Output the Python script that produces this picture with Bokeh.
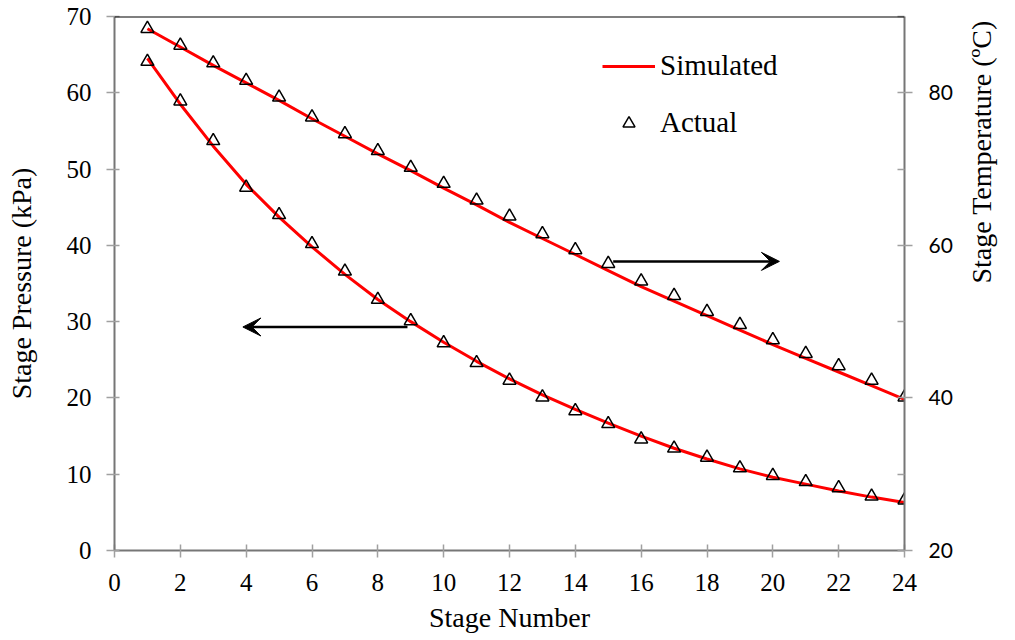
import math
from bokeh.plotting import figure
from bokeh.models import (Range1d, LinearAxis, FixedTicker, Span, Arrow, VeeHead,
                          Legend, LegendItem)
from bokeh.embed import file_html
from bokeh.resources import INLINE

# ---------------- data ----------------
stages = list(range(1, 25))
pressure_simulated = [64.5, 58.5, 53.0, 48.0, 43.7, 39.8, 36.2, 32.9, 30.0, 27.3, 24.8, 22.5,
                      20.4, 18.5, 16.7, 15.0, 13.4, 12.0, 10.7, 9.6, 8.7, 7.8, 7.0, 6.3]
pressure_actual = [64.1, 58.9, 53.7, 47.6, 44.0, 40.2, 36.6, 32.9, 30.1, 27.2, 24.6, 22.3,
                   20.1, 18.3, 16.6, 14.6, 13.4, 12.2, 10.8, 9.8, 9.0, 8.2, 7.1, 6.6]
temperature_simulated = [88.4, 86.0, 83.6, 81.3, 79.0, 76.6, 74.3, 72.0, 69.8, 67.5, 65.3, 63.0,
                         60.9, 58.8, 56.7, 54.6, 52.7, 50.8, 48.9, 47.0, 45.2, 43.4, 41.6, 39.8]
temperature_actual = [88.4, 86.2, 83.9, 81.6, 79.4, 76.8, 74.6, 72.4, 70.2, 68.1, 65.9, 63.8,
                      61.5, 59.4, 57.6, 55.3, 53.4, 51.3, 49.6, 47.6, 45.8, 44.2, 42.3, 40.1]

x_ticks = list(range(0, 25, 2))
pressure_ticks = list(range(0, 71, 10))
temperature_ticks = [20, 40, 60, 80]
temperature_minor_ticks = [30, 50, 70, 90]

# arrows: (x_start, x_end, y)
pressure_arrow = (8.9, 3.9, 29.3)        # left axis units
temperature_arrow = (15.15, 20.2, 57.9)  # right axis units

SERIF = "Liberation Serif"
SANS = "Lato"
AXIS_COLOR = "#767676"
TICK_COLOR = "#a0a0a0"

p = figure(width=1015, height=640, output_backend="svg", toolbar_location=None,
           x_range=Range1d(0, 24), y_range=Range1d(0, 70),
           min_border_left=114, min_border_right=110, min_border_top=16, min_border_bottom=90)
p.extra_y_ranges = {"temp": Range1d(20, 90)}
p.grid.visible = False
p.outline_line_color = None
p.background_fill_color = "white"
p.border_fill_color = "white"

# bottom axis
xa = p.xaxis[0]
xa.ticker = FixedTicker(ticks=x_ticks)
xa.axis_label = "Stage Number"
# left axis
ya = p.yaxis[0]
ya.ticker = FixedTicker(ticks=pressure_ticks)
ya.axis_label = "Stage Pressure (kPa)"

for ax in (xa, ya):
    ax.axis_line_color = AXIS_COLOR
    ax.axis_line_width = 2
    ax.major_tick_line_color = TICK_COLOR
    ax.major_tick_line_width = 1.5
    ax.minor_tick_line_color = None
    ax.major_label_text_font = SERIF
    ax.major_label_text_font_size = "25px"
    ax.major_label_text_color = "black"
    ax.axis_label_text_font = SERIF
    ax.axis_label_text_font_style = "normal"
    ax.axis_label_text_font_size = "28px"
    ax.axis_label_text_color = "black"

xa.major_tick_in = 6
xa.major_tick_out = 7
xa.major_label_standoff = 16
xa.axis_label_standoff = 8

ya.major_tick_in = 5
ya.major_tick_out = 8
ya.major_label_standoff = 15
ya.axis_label_standoff = 27

# right axis
ra = LinearAxis(y_range_name="temp",
                ticker=FixedTicker(ticks=temperature_ticks, minor_ticks=temperature_minor_ticks),
                axis_label="Stage Temperature (ºC)")
ra.axis_line_color = AXIS_COLOR
ra.axis_line_width = 2
ra.major_tick_line_color = TICK_COLOR
ra.major_tick_line_width = 1.5
ra.major_tick_in = 7
ra.major_tick_out = 8
ra.minor_tick_line_color = TICK_COLOR
ra.minor_tick_line_width = 1.5
ra.minor_tick_in = 7
ra.minor_tick_out = 0
ra.major_label_text_font = SANS
ra.major_label_text_font_size = "21px"
ra.major_label_text_color = "black"
ra.major_label_standoff = 16
ra.axis_label_text_font = SERIF
ra.axis_label_text_font_style = "normal"
ra.axis_label_text_font_size = "28px"
ra.axis_label_text_color = "black"
ra.axis_label_standoff = 26
if "axis_label_orientation" in ra.properties():
    ra.axis_label_orientation = math.pi / 2
p.add_layout(ra, "right")

# top border line
p.add_layout(Span(location=70, dimension="width", line_color="black", line_width=2))

# series
r_sim = p.line(stages, pressure_simulated, line_color="#ff0000", line_width=3)
p.line(stages, temperature_simulated, line_color="#ff0000", line_width=3, y_range_name="temp")
r_act = p.scatter(stages, pressure_actual, marker="triangle", size=13, fill_color=None,
                  line_color="black", line_width=1.5)
p.scatter(stages, temperature_actual, marker="triangle", size=13, fill_color=None,
          line_color="black", line_width=1.5, y_range_name="temp")

# arrows
p.add_layout(Arrow(end=VeeHead(size=18, fill_color="black", line_color="black", line_width=1),
                   x_start=pressure_arrow[0], x_end=pressure_arrow[1],
                   y_start=pressure_arrow[2], y_end=pressure_arrow[2],
                   line_color="black", line_width=2.5))
p.add_layout(Arrow(end=VeeHead(size=18, fill_color="black", line_color="black", line_width=1),
                   x_start=temperature_arrow[0], x_end=temperature_arrow[1],
                   y_start=temperature_arrow[2], y_end=temperature_arrow[2],
                   y_range_name="temp", line_color="black", line_width=2.5))

legend = Legend(items=[LegendItem(label="Simulated", renderers=[r_sim]),
                       LegendItem(label="Actual", renderers=[r_act])],
                location=(488, 411), padding=0, margin=0, spacing=24,
                glyph_width=53, glyph_height=30, label_height=30, label_standoff=5,
                label_text_font=SERIF, label_text_font_size="29px", label_text_color="black",
                border_line_color=None, background_fill_alpha=0)
p.add_layout(legend)

open("out.html", "w").write(file_html(p, INLINE))
